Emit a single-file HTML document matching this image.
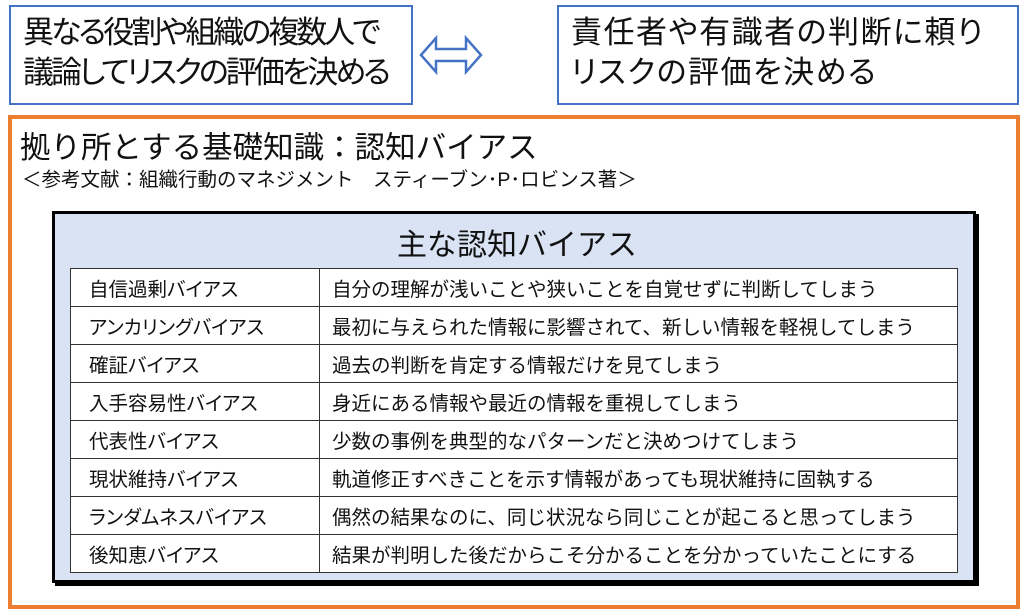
<!DOCTYPE html>
<html><head><meta charset="utf-8"><style>
*{margin:0;padding:0;box-sizing:border-box}
body{width:1024px;height:613px;background:#fff;position:relative;overflow:hidden;font-family:"Liberation Sans","Noto Sans CJK JP",sans-serif;color:#111}
.b{position:absolute;border:2.5px solid #4472c4;font-size:31px;line-height:40px;padding:6px 0 0 12px;white-space:nowrap;font-feature-settings:"palt"}
#o{position:absolute;left:8px;top:115px;width:1012px;height:494px;border:4px solid #ed7d31}
#p{position:absolute;left:52px;top:211px;width:924px;height:372px;border:3px solid #000;background:#dae3f3;box-shadow:3px 3px 0 #000}
table{position:absolute;left:70px;top:268px;width:888px;border-collapse:collapse;background:#fff}
td{border:1.5px solid #333;height:38px;font-size:19.5px;padding:0 0 0 12px;white-space:nowrap}
td:first-child{width:249px;padding-left:18px;font-feature-settings:"palt"}
</style></head><body>
<div class="b" style="left:9px;top:5px;width:404px;height:100px;letter-spacing:-3px">異なる役割や組織の複数人で<br>議論してリスクの評価を決める</div>
<svg style="position:absolute;left:418px;top:30px" width="66" height="50"><path d="M3 25 L18 8 L18 19 L48 19 L48 8 L63 25 L48 42 L48 31 L18 31 L18 42 Z" fill="#fff" stroke="#4472c4" stroke-width="2.5"/></svg>
<div class="b" style="left:557px;top:5px;width:462px;height:100px;letter-spacing:1.5px">責任者や有識者の判断に頼り<br>リスクの評価を決める</div>
<div id="o"></div>
<div style="position:absolute;left:20px;top:123px;font-size:30.5px;white-space:nowrap">拠り所とする基礎知識：認知バイアス</div>
<div style="position:absolute;left:22px;top:163px;font-size:19.5px;white-space:nowrap">＜参考文献：組織行動のマネジメント　スティーブン･P･ロビンス著＞</div>
<div id="p"></div>
<div style="position:absolute;left:52px;width:930px;top:220px;text-align:center;font-size:30px">主な認知バイアス</div>
<table>
<tr><td>自信過剰バイアス</td><td>自分の理解が浅いことや狭いことを自覚せずに判断してしまう</td></tr>
<tr><td>アンカリングバイアス</td><td>最初に与えられた情報に影響されて、新しい情報を軽視してしまう</td></tr>
<tr><td>確証バイアス</td><td>過去の判断を肯定する情報だけを見てしまう</td></tr>
<tr><td>入手容易性バイアス</td><td>身近にある情報や最近の情報を重視してしまう</td></tr>
<tr><td>代表性バイアス</td><td>少数の事例を典型的なパターンだと決めつけてしまう</td></tr>
<tr><td>現状維持バイアス</td><td>軌道修正すべきことを示す情報があっても現状維持に固執する</td></tr>
<tr><td>ランダムネスバイアス</td><td>偶然の結果なのに、同じ状況なら同じことが起こると思ってしまう</td></tr>
<tr><td>後知恵バイアス</td><td>結果が判明した後だからこそ分かることを分かっていたことにする</td></tr>
</table>
</body></html>
